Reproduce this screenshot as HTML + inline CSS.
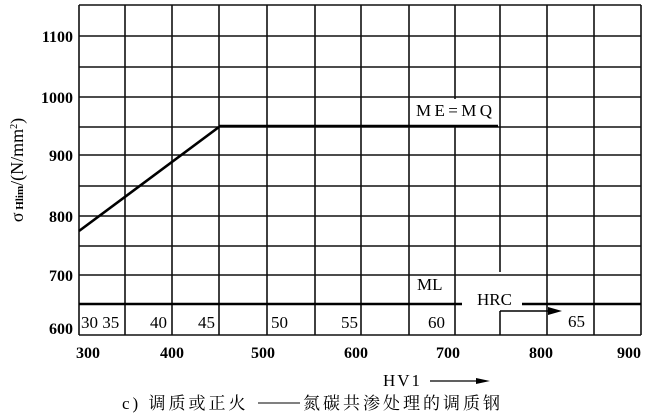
<!DOCTYPE html><html><head><style>body{margin:0;background:#fff}</style></head><body>
<svg width="650" height="415" xmlns="http://www.w3.org/2000/svg" font-family="Liberation Serif, serif" font-weight="bold">
<g stroke="#111" stroke-width="1.6">
<line x1="79" y1="5" x2="641" y2="5"/>
<line x1="79" y1="36" x2="641" y2="36"/><line x1="79" y1="67" x2="641" y2="67"/>
<line x1="79" y1="97" x2="641" y2="97"/><line x1="79" y1="127" x2="641" y2="127"/><line x1="79" y1="186" x2="641" y2="186"/>
<line x1="79" y1="155" x2="641" y2="155"/><line x1="79" y1="216" x2="641" y2="216"/>
<line x1="79" y1="246" x2="641" y2="246"/><line x1="79" y1="275" x2="641" y2="275"/>
<line x1="79" y1="335" x2="641" y2="335"/>
<line x1="79" y1="5" x2="79" y2="335"/><line x1="125" y1="5" x2="125" y2="335"/>
<line x1="172" y1="5" x2="172" y2="335"/><line x1="219" y1="5" x2="219" y2="335"/>
<line x1="267" y1="5" x2="267" y2="335"/><line x1="315" y1="5" x2="315" y2="335"/>
<line x1="361" y1="5" x2="361" y2="335"/><line x1="409" y1="5" x2="409" y2="335"/>
<line x1="455" y1="5" x2="455" y2="335"/><line x1="500" y1="5" x2="500" y2="272"/>
<line x1="500" y1="311" x2="500" y2="335"/>
<line x1="547" y1="5" x2="547" y2="335"/><line x1="594" y1="5" x2="594" y2="335"/>
<line x1="641" y1="5" x2="641" y2="335"/>
</g>
<rect x="411" y="99" width="86" height="26" fill="#fff"/>
<g stroke="#000" stroke-width="2.6">
<line x1="79" y1="231" x2="219" y2="127"/><line x1="219" y1="126" x2="498" y2="126"/>
<line x1="79" y1="304" x2="462" y2="304"/><line x1="522" y1="304" x2="641" y2="304"/>
</g>
<line x1="500" y1="311" x2="550" y2="311" stroke="#000" stroke-width="1.5"/>
<polygon points="548,307 562,311 548,315" fill="#000"/>
<g font-size="16" text-anchor="end">
<text x="73" y="42">1100</text><text x="73" y="103">1000</text><text x="73" y="161">900</text>
<text x="73" y="222">800</text><text x="73" y="281">700</text><text x="73" y="334">600</text>
</g>
<g font-size="16" text-anchor="middle">
<text x="88" y="358">300</text><text x="172" y="358">400</text><text x="263" y="358">500</text>
<text x="356" y="358">600</text><text x="448" y="358">700</text><text x="541" y="358">800</text><text x="629" y="358">900</text>
</g>
<g font-size="17" font-weight="normal">
<text x="81" y="328">30 35</text><text x="150" y="328">40</text><text x="198" y="328">45</text>
<text x="271" y="328">50</text><text x="341" y="328">55</text><text x="428" y="328">60</text><text x="568" y="327">65</text>
<text x="417" y="290">ML</text><text x="477" y="305">HRC</text>
<text x="416" y="116" textLength="76">ME=MQ</text>
<text x="383" y="386" letter-spacing="2">HV1</text>
</g>
<line x1="430" y1="381" x2="480" y2="381" stroke="#000" stroke-width="1.3"/>
<polygon points="476,378 490,381 476,384" fill="#000"/>
<g font-size="17" font-weight="normal" font-family="Liberation Serif, 'Noto Serif CJK SC', serif">
<text x="122" y="409" letter-spacing="3">c) 调质或正火</text>
<line x1="258" y1="403" x2="300" y2="403" stroke="#000" stroke-width="1"/>
<text x="303" y="409" letter-spacing="3">氮碳共渗处理的调质钢</text>
</g>
<text transform="translate(23,170) rotate(-90)" text-anchor="middle" font-size="18" font-weight="normal">σ<tspan font-size="11" font-weight="bold"> Hlim</tspan>/(N/mm<tspan font-size="10" dy="-6">2</tspan><tspan dy="6">)</tspan></text>
</svg>
</body></html>
